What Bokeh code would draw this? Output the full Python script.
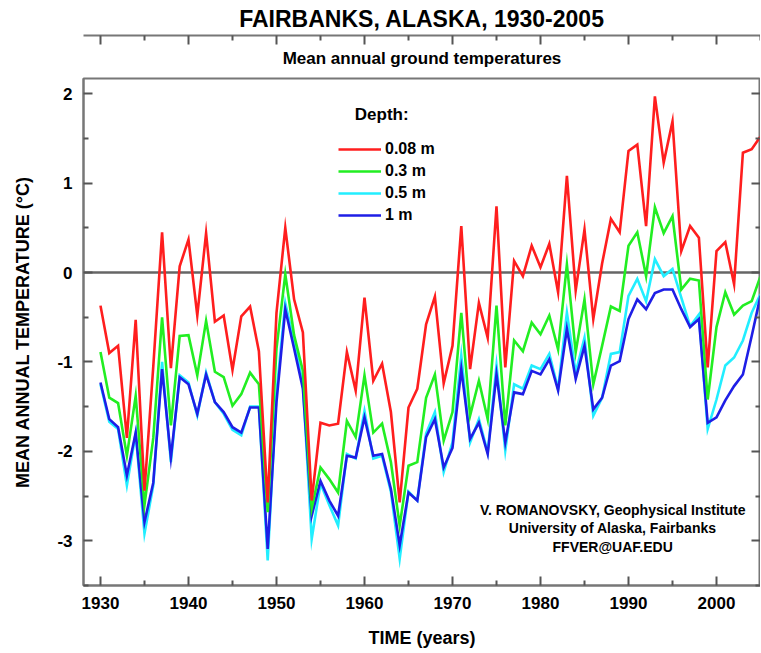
from bokeh.plotting import figure
from bokeh.models import (Range1d, LinearAxis, FixedTicker, Span, Label, Legend,
                          LegendItem, Title, PrintfTickFormatter)
from bokeh.embed import file_html
from bokeh.resources import INLINE

FONT = "Liberation Sans"

years = list(range(1930, 2006))

depth_008 = [-0.37, -0.90, -0.82, -1.85, -0.53, -2.44, -1.05, 0.45, -1.07, 0.07,
             0.37, -0.48, 0.44, -0.55, -0.48, -1.09, -0.49, -0.38, -0.88, -2.57,
             -0.45, 0.50, -0.30, -0.67, -2.55, -1.68, -1.71, -1.69, -0.89, -1.32,
             -0.28, -1.21, -1.02, -1.56, -2.57, -1.51, -1.30, -0.58, -0.27, -1.24,
             -0.82, 0.52, -1.08, -0.34, -0.73, 0.74, -1.06, 0.13, -0.04, 0.30,
             0.06, 0.32, -0.22, 1.08, -0.20, 0.48, -0.52, 0.10, 0.60, 0.45,
             1.36, 1.43, 0.52, 1.97, 1.23, 1.69, 0.24, 0.52, 0.39, -1.06,
             0.24, 0.34, -0.13, 1.34, 1.38, 1.52]

depth_03 = [-0.89, -1.40, -1.46, -2.05, -1.38, -2.60, -1.85, -0.50, -1.71, -0.71,
            -0.70, -1.15, -0.54, -1.11, -1.17, -1.49, -1.36, -1.12, -1.25, -2.68,
            -0.85, -0.02, -0.70, -1.10, -2.64, -2.18, -2.31, -2.46, -1.66, -1.84,
            -1.15, -1.79, -1.69, -2.12, -2.83, -2.16, -2.12, -1.40, -1.14, -1.88,
            -1.56, -0.45, -1.60, -1.21, -1.64, -0.37, -1.71, -0.76, -0.88, -0.56,
            -0.69, -0.48, -0.86, 0.09, -0.89, -0.30, -1.25, -0.82, -0.38, -0.43,
            0.30, 0.45, -0.04, 0.73, 0.44, 0.63, -0.19, -0.07, -0.09, -1.42,
            -0.61, -0.22, -0.47, -0.37, -0.32, -0.04]

depth_05 = [-1.25, -1.67, -1.75, -2.38, -1.80, -2.92, -2.38, -1.00, -2.12, -1.15,
            -1.23, -1.60, -1.12, -1.45, -1.58, -1.76, -1.82, -1.50, -1.50, -3.22,
            -1.35, -0.34, -0.78, -1.25, -2.98, -2.36, -2.60, -2.83, -2.03, -2.08,
            -1.55, -2.08, -2.05, -2.45, -3.20, -2.45, -2.55, -1.80, -1.56, -2.23,
            -1.90, -0.93, -1.90, -1.64, -2.01, -1.04, -1.99, -1.25, -1.30, -1.04,
            -1.08, -0.91, -1.30, -0.45, -1.12, -0.73, -1.60, -1.40, -0.91, -0.89,
            -0.26, -0.07, -0.32, 0.15, -0.04, 0.04, -0.28, -0.60, -0.47, -1.75,
            -1.42, -1.04, -0.95, -0.76, -0.45, -0.24]

depth_1 = [-1.23, -1.64, -1.73, -2.27, -1.79, -2.79, -2.35, -1.08, -2.07, -1.17,
           -1.25, -1.58, -1.14, -1.45, -1.56, -1.73, -1.79, -1.51, -1.51, -3.09,
           -1.45, -0.41, -0.85, -1.30, -2.72, -2.33, -2.55, -2.72, -2.05, -2.07,
           -1.62, -2.05, -2.03, -2.42, -3.05, -2.46, -2.55, -1.84, -1.64, -2.18,
           -1.96, -1.08, -1.86, -1.68, -2.03, -1.14, -1.90, -1.34, -1.36, -1.10,
           -1.14, -0.97, -1.32, -0.63, -1.19, -0.82, -1.53, -1.40, -1.04, -0.99,
           -0.52, -0.30, -0.41, -0.23, -0.19, -0.19, -0.41, -0.61, -0.52, -1.68,
           -1.62, -1.43, -1.27, -1.14, -0.71, -0.26]

series_labels = ["0.08 m", "0.3 m", "0.5 m", "1 m"]
series_colors = ["#ff1e1e", "#22ee22", "#22eeff", "#1e1ee6"]

x_major = [1930, 1940, 1950, 1960, 1970, 1980, 1990, 2000]
x_minor = [1935, 1945, 1955, 1965, 1975, 1985, 1995, 2005]
y_major = [-3, -2, -1, 0, 1, 2]
y_minor = [-3.5, -2.5, -1.5, -0.5, 0.5, 1.5]

title_text = "FAIRBANKS, ALASKA, 1930-2005"
subtitle_text = "Mean annual ground temperatures"
credit_lines = ["V. ROMANOVSKY, Geophysical Institute",
                "University of Alaska, Fairbanks",
                "FFVER@UAF.EDU"]

p = figure(frame_width=677, frame_height=507,
           x_range=Range1d(1928.07, 2005.0), y_range=Range1d(-3.5, 2.17),
           output_backend="svg", toolbar_location=None,
           min_border_left=83, min_border_right=0, min_border_top=0,
           min_border_bottom=0, background_fill_color="white",
           border_fill_color="white")

p.title.text = title_text
p.title.text_font = FONT
p.title.text_font_size = "23px"
p.title.text_font_style = "bold"
p.title.text_color = "black"
p.title.align = "center"
p.title.offset = -14
p.title.standoff = 7

sub = Title(text=subtitle_text, text_font=FONT, text_font_size="17px",
            text_font_style="bold", text_color="black", align="center",
            offset=-14, standoff=22)
p.add_layout(sub, "above")

p.xgrid.visible = False
p.ygrid.visible = False
p.outline_line_color = "#777777"
p.outline_line_width = 2


def style_axis(ax, show_labels):
    ax.axis_line_color = "#777777"
    ax.axis_line_width = 2
    ax.major_tick_line_color = "#555555"
    ax.major_tick_line_width = 2
    ax.minor_tick_line_color = "#555555"
    ax.minor_tick_line_width = 2
    ax.major_tick_in = 9
    ax.major_tick_out = 0
    ax.minor_tick_in = 5
    ax.minor_tick_out = 0
    if show_labels:
        ax.major_label_text_font = FONT
        ax.major_label_text_font_style = "bold"
        ax.major_label_text_font_size = "17px"
        ax.major_label_text_color = "black"
        ax.axis_label_text_font = FONT
        ax.axis_label_text_font_style = "bold"
        ax.axis_label_text_font_size = "18px"
        ax.axis_label_text_color = "black"
    else:
        ax.major_label_text_font_size = "1px"
        ax.major_label_text_color = None
        ax.major_label_standoff = 0


xa = p.xaxis[0]
xa.ticker = FixedTicker(ticks=x_major, minor_ticks=x_minor)
xa.formatter = PrintfTickFormatter(format="%d")
xa.axis_label = "TIME (years)"
style_axis(xa, True)
xa.major_label_standoff = 11
xa.axis_label_standoff = 16

ya = p.yaxis[0]
ya.ticker = FixedTicker(ticks=y_major, minor_ticks=y_minor)
ya.formatter = PrintfTickFormatter(format="%d")
ya.axis_label = "MEAN ANNUAL TEMPERATURE (°C)"
style_axis(ya, True)
ya.major_label_standoff = 11
ya.axis_label_standoff = 21

top_ax = LinearAxis(ticker=FixedTicker(ticks=x_major, minor_ticks=x_minor))
style_axis(top_ax, False)
p.add_layout(top_ax, "above")
right_ax = LinearAxis(ticker=FixedTicker(ticks=y_major, minor_ticks=y_minor))
style_axis(right_ax, False)
p.add_layout(right_ax, "right")

zero = Span(location=0, dimension="width", line_color="#666666", line_width=2.5,
            level="underlay")
p.add_layout(zero)

series = [depth_008, depth_03, depth_05, depth_1]
renderers = {}
for idx in [2, 3, 1, 0]:
    r = p.line(years, series[idx], line_color=series_colors[idx], line_width=2.6,
               line_join="miter")
    renderers[idx] = r

legend = Legend(items=[LegendItem(label=series_labels[i], renderers=[renderers[i]])
                       for i in range(4)],
                location=(255, 360), padding=0, margin=0, spacing=2,
                glyph_width=43, glyph_height=20, label_height=20, label_standoff=4,
                border_line_color=None, background_fill_alpha=0,
                label_text_font=FONT, label_text_font_style="bold",
                label_text_font_size="16px", label_text_color="black")
p.add_layout(legend, "center")

p.add_layout(Label(x=1958.9, y=1.77, text="Depth:", text_font=FONT,
                   text_font_style="bold", text_font_size="17px",
                   text_baseline="middle", text_color="black"))

credit_y = [-2.66, -2.86, -3.07]
for line, yy in zip(credit_lines, credit_y):
    p.add_layout(Label(x=1988.2, y=yy, text=line, text_font=FONT,
                       text_font_style="bold", text_font_size="14px",
                       text_align="center", text_baseline="middle",
                       text_color="black"))

open("out.html", "w").write(file_html(p, INLINE))
